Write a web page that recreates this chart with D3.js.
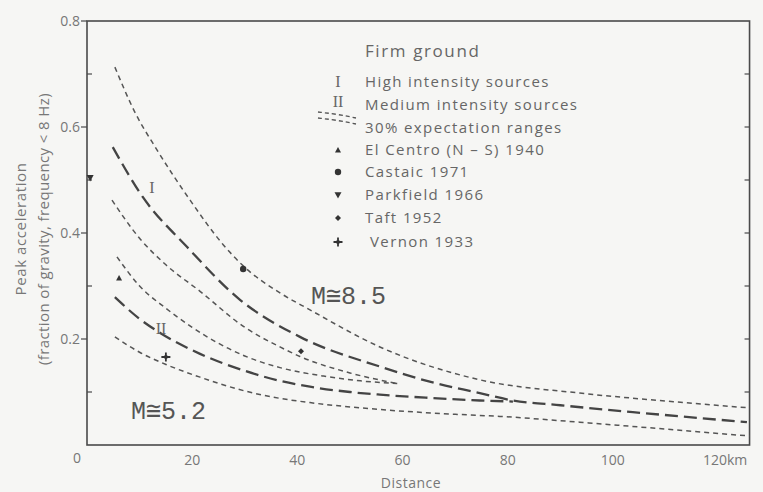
<!DOCTYPE html>
<html><head><meta charset="utf-8">
<script src="https://cdn.jsdelivr.net/npm/d3@7"></script>
<style>
html,body{margin:0;padding:0;background:#f6f6f4;}
svg{display:block;}
</style></head>
<body>
<svg id="c" width="763" height="492"></svg>
<script>
// ---- data (distance km, peak acceleration g) ----
const curveIUpper = [[5.3,0.713],[9,0.63],[13.3,0.557],[19.6,0.462],[25.9,0.378],[29.7,0.338],[36.7,0.287],[42.4,0.255],[55.7,0.185],[74.7,0.123],[93.7,0.098],[110,0.083],[126,0.070]];
const curveIMean = [[4.9,0.562],[10.6,0.468],[19,0.374],[29.1,0.274],[40.5,0.204],[55.7,0.148],[65,0.120],[74.7,0.098],[81,0.084],[90,0.075],[103.8,0.062],[114,0.053],[125.5,0.043]];
const curveILower = [[4.75,0.462],[10,0.39],[15,0.34],[21.5,0.29],[30,0.222],[36.7,0.185],[40.5,0.167],[50,0.136],[59,0.116]];
const curveIIUpper = [[5.7,0.355],[10,0.30],[15,0.258],[20,0.222],[30,0.168],[36.7,0.146],[45,0.130],[52,0.121],[59,0.116]];
const curveIIMean = [[5.3,0.279],[10,0.238],[14,0.211],[21.5,0.172],[30,0.140],[36.7,0.121],[42.4,0.110],[50,0.100],[55.7,0.095],[65,0.089],[74.7,0.084],[81,0.082]];
const curveIILower = [[5.3,0.204],[10,0.175],[15,0.152],[21.5,0.128],[30,0.102],[36.7,0.088],[42.4,0.080],[55.7,0.067],[70,0.058],[78.5,0.054],[93.7,0.043],[110,0.030],[126,0.017]];

const elCentro = [[6.1,0.315]];
const castaic = [[29.7,0.332]];
const parkfield = [[0.6,0.504]];
const taft = [[40.7,0.177]];
const vernon = [[15,0.166]];

const yTickLabels = ["0.2","0.4","0.6","0.8"];
const yTickValues = [0.2,0.4,0.6,0.8];
const xTickValues = [20,40,60,80,100];
const xTickLabels = ["20","40","60","80","100"];
const legendTitle = "Firm ground";
const legendItems = ["High intensity sources","Medium intensity sources","30% expectation ranges","El Centro (N – S) 1940","Castaic 1971","Parkfield 1966","Taft 1952","Vernon 1933"];

// ---- drawing ----
const svg = d3.select("#c");
const ink = "#4a4a4a";
const x = d3.scaleLinear().domain([0,120]).range([87,718]);
const y = d3.scaleLinear().domain([0,0.8]).range([445,21]);
const xMax = 126;

const g = svg.append("g");
g.append("rect").attr("x",x(0)).attr("y",y(0.8)).attr("width",x(xMax)-x(0)).attr("height",y(0)-y(0.8))
  .attr("fill","none").attr("stroke",ink).attr("stroke-width",1.6);

const minor = [0.1,0.3,0.5,0.7];
g.selectAll(".lt").data(yTickValues).enter().append("line")
  .attr("x1",x(0)-6).attr("x2",x(0)).attr("y1",d=>y(d)).attr("y2",d=>y(d)).attr("stroke",ink).attr("stroke-width",1.2);
g.selectAll(".lm").data(minor).enter().append("line")
  .attr("x1",x(0)).attr("x2",x(0)+5).attr("y1",d=>y(d)).attr("y2",d=>y(d)).attr("stroke",ink).attr("stroke-width",1.2);
g.selectAll(".rt").data(d3.range(1,8).map(i=>i/10)).enter().append("line")
  .attr("x1",x(xMax)-5).attr("x2",x(xMax)).attr("y1",d=>y(d)).attr("y2",d=>y(d)).attr("stroke",ink).attr("stroke-width",1.2);

const lab = {fill:"#777","font-family":"'Open Sans', sans-serif","font-size":"14px"};
function styl(sel,o){for(const k in o) sel.attr(k,o[k]); return sel;}
yTickValues.forEach((v,i)=>{
  styl(g.append("text"),lab).attr("x",x(0)-7).attr("y",y(v)+5).attr("text-anchor","end").text(yTickLabels[i]);
});
styl(g.append("text"),lab).attr("x",77).attr("y",463).attr("text-anchor","middle").text("0");
xTickValues.forEach((v,i)=>{
  styl(g.append("text"),lab).attr("x",x(v)).attr("y",465).attr("text-anchor","middle").text(xTickLabels[i]);
});
styl(g.append("text"),lab).attr("x",703).attr("y",465).attr("text-anchor","start").text("120km");
styl(g.append("text"),lab).attr("x",411).attr("y",488).attr("text-anchor","middle").attr("letter-spacing","0.5px").text("Distance");

// y title
const yt = g.append("g").attr("transform","translate(26,229) rotate(-90)");
styl(yt.append("text"),lab).attr("x",0).attr("y",0).attr("font-size","15px").attr("letter-spacing","0.6px").attr("text-anchor","middle").text("Peak acceleration");
styl(yt.append("text"),lab).attr("x",0).attr("y",23).attr("font-size","15px").attr("letter-spacing","0.4px").attr("text-anchor","middle").text("(fraction of gravity, frequency < 8 Hz)");

// curves
const line = d3.line().x(d=>x(d[0])).y(d=>y(d[1])).curve(d3.curveMonotoneX);
const shortDash = {stroke:"#555","stroke-width":1.5,"stroke-dasharray":"5,4",fill:"none"};
const longDash = {stroke:"#444","stroke-width":2.3,"stroke-dasharray":"13,6",fill:"none"};
[curveIUpper,curveILower,curveIIUpper,curveIILower].forEach(c=>styl(g.append("path").attr("d",line(c)),shortDash));
[curveIMean,curveIIMean].forEach(c=>styl(g.append("path").attr("d",line(c)),longDash));

const rom = {fill:"#666","font-family":"'Liberation Serif', serif","font-size":"16px","text-anchor":"middle"};
styl(g.append("text"),rom).attr("x",152).attr("y",193).text("I");
styl(g.append("text"),rom).attr("x",161).attr("y",334).text("II");

const mag = {fill:"#555","font-family":"'Liberation Mono', monospace","font-size":"25px"};
styl(g.append("text"),mag).attr("x",311).attr("y",304).text("M≅8.5");
styl(g.append("text"),mag).attr("x",131).attr("y",419).text("M≅5.2");

// markers
const mk = "#333";
function tri(cx,cy,s,up){ return up? `M${cx},${cy-s} L${cx+s},${cy+s*0.8} L${cx-s},${cy+s*0.8}Z` : `M${cx},${cy+s} L${cx+s},${cy-s*0.8} L${cx-s},${cy-s*0.8}Z`; }
function diamond(cx,cy,s){ return `M${cx},${cy-s} L${cx+s},${cy} L${cx},${cy+s} L${cx-s},${cy}Z`; }
function plus(cx,cy,s){ return `M${cx-s},${cy} L${cx+s},${cy} M${cx},${cy-s} L${cx},${cy+s}`; }
function drawMarker(kind,cx,cy){
  if(kind==="tri") g.append("path").attr("d",tri(cx,cy,3,true)).attr("fill",mk);
  if(kind==="circ") g.append("circle").attr("cx",cx).attr("cy",cy).attr("r",3.2).attr("fill",mk);
  if(kind==="inv") g.append("path").attr("d",tri(cx,cy,3.5,false)).attr("fill",mk);
  if(kind==="dia") g.append("path").attr("d",diamond(cx,cy,3)).attr("fill",mk);
  if(kind==="plus"){ g.append("path").attr("d",plus(cx,cy,4.5)).attr("stroke",mk).attr("stroke-width",1.8); g.append("circle").attr("cx",cx).attr("cy",cy).attr("r",2).attr("fill",mk);}
}
elCentro.forEach(d=>drawMarker("tri",x(d[0]),y(d[1])));
castaic.forEach(d=>drawMarker("circ",x(d[0]),y(d[1])));
parkfield.forEach(d=>drawMarker("inv",x(d[0]),y(d[1])));
taft.forEach(d=>drawMarker("dia",x(d[0]),y(d[1])));
vernon.forEach(d=>drawMarker("plus",x(d[0]),y(d[1])));

// legend
const leg = {fill:"#666","font-family":"'Open Sans', sans-serif","font-size":"15px","letter-spacing":"1.4px"};
styl(g.append("text"),leg).attr("x",365).attr("y",57).attr("font-size","17px").attr("letter-spacing","1.6px").text(legendTitle);
const rows = [82,105,128,150,172,195,218,242];
legendItems.forEach((t,i)=>{
  styl(g.append("text"),leg).attr("x",i===7?370:365).attr("y",rows[i]+5).text(t);
});
styl(g.append("text"),rom).attr("x",338).attr("y",87).text("I");
styl(g.append("text"),rom).attr("x",338).attr("y",107).text("II");
const lg = d3.line().curve(d3.curveBasis);
styl(g.append("path").attr("d",lg([[318,112],[336,114],[356,118]])),shortDash).attr("stroke-dasharray","4,3").attr("stroke-width",1.3);
styl(g.append("path").attr("d",lg([[318,118],[336,120],[356,124]])),shortDash).attr("stroke-dasharray","4,3").attr("stroke-width",1.3);
drawMarker("tri",338,rows[3]);
drawMarker("circ",338,rows[4]);
drawMarker("inv",338,rows[5]);
drawMarker("dia",338,rows[6]);
drawMarker("plus",338,rows[7]);
</script>
</body></html>
